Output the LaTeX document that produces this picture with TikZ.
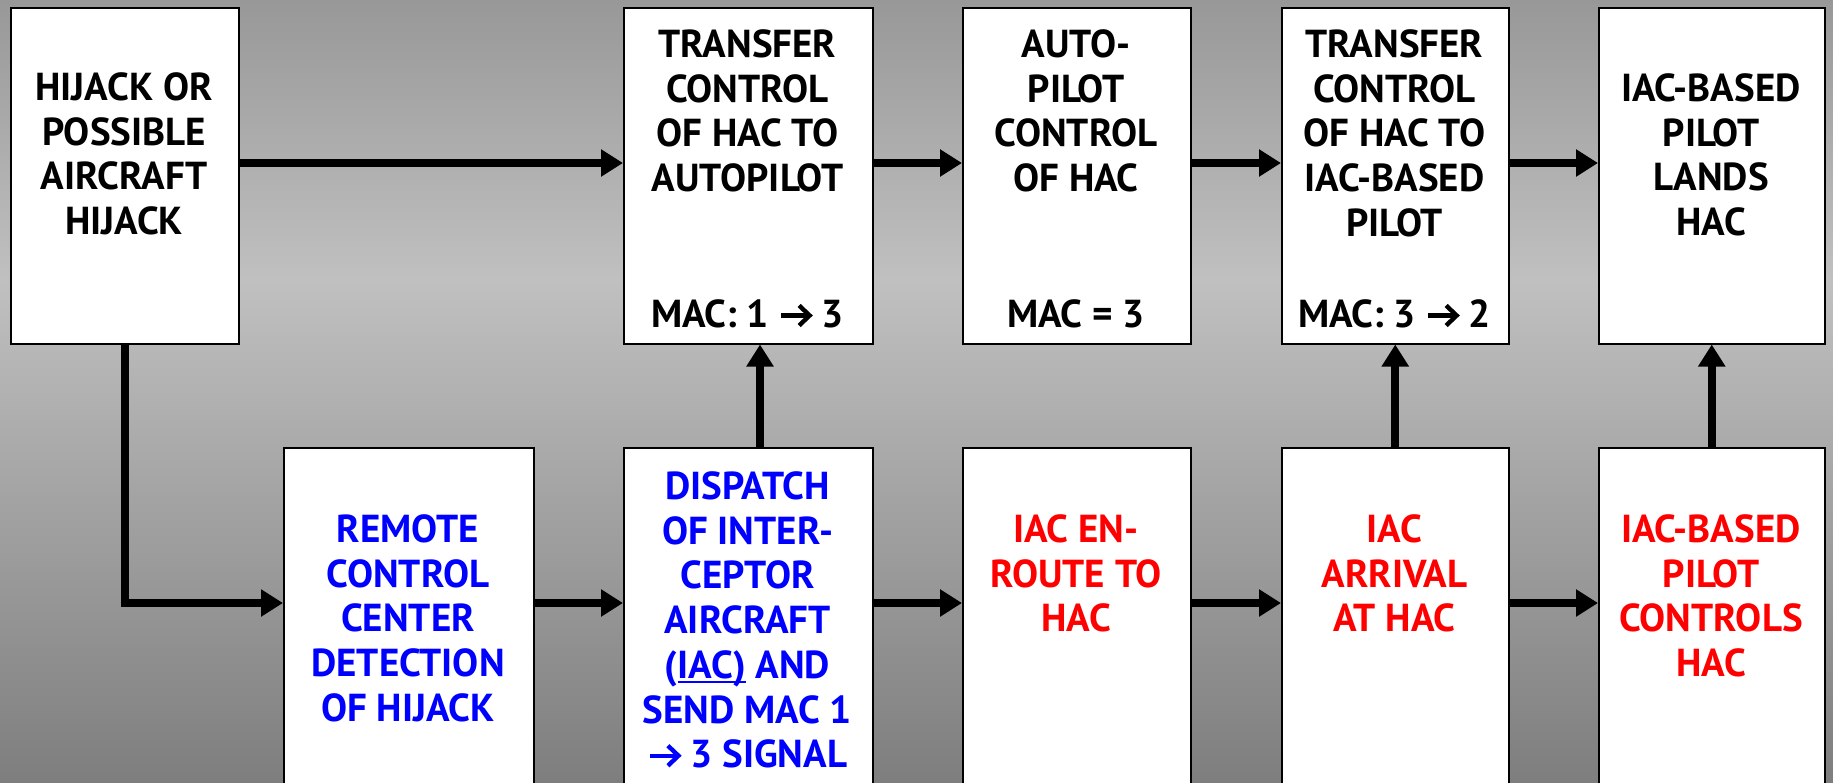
\documentclass[tikz,border=0pt]{standalone}
\usepackage{fontspec}
\setmainfont{PT Sans}
\usetikzlibrary{arrows.meta}
\definecolor{bgtop}{RGB}{152,152,152}
\definecolor{bgmid}{RGB}{192,192,192}
\definecolor{bgbot}{RGB}{126,126,126}
\definecolor{tblue}{RGB}{0,0,255}
\definecolor{tred}{RGB}{255,0,0}
\newcommand{\rarr}{\tikz[x=1pt,y=1pt,baseline=0pt,line width=4.4pt]{\path (0,0) rectangle (30,1); \draw (0,12) -- (28,12); \draw[line join=miter, miter limit=10] (18,2) -- (28.5,12) -- (18,22);}}
\newcommand{\myul}[1]{\setbox0\hbox{#1}\rlap{\rule[-5pt]{\wd0}{2.8pt}}\box0\relax}
\begin{document}
\begin{tikzpicture}[x=1pt,y=-1pt,
  box/.style={draw=black, line width=1.5pt, fill=white, inner sep=0pt, anchor=north west, minimum height=#1},
  txt/.style={anchor=north, inner sep=0pt, align=center, font=\fontsize{39}{44.7}\selectfont\bfseries},
  arr/.style={line width=8pt, line join=miter, -{Triangle[length=22pt,width=26pt]}}]
\useasboundingbox (0,0) rectangle (1833,782);
\shade[top color=bgtop, bottom color=bgmid] (0,0) rectangle (1833,280);
\shade[top color=bgmid, bottom color=bgbot] (0,280) rectangle (1833,782);
% top row boxes
\node[box=336pt, minimum width=228pt] (b1) at (10,7) {};
\node[box=336pt, minimum width=249pt] (b2) at (623,7) {};
\node[box=336pt, minimum width=228pt] (b3) at (962,7) {};
\node[box=336pt, minimum width=227pt] (b4) at (1281,7) {};
\node[box=336pt, minimum width=226pt] (b5) at (1598,7) {};
% bottom row boxes
\node[box=345pt, minimum width=250pt] (bA) at (283,447) {};
\node[box=345pt, minimum width=249pt] (bB) at (623,447) {};
\node[box=345pt, minimum width=228pt] (bC) at (962,447) {};
\node[box=345pt, minimum width=227pt] (bD) at (1281,447) {};
\node[box=345pt, minimum width=226pt] (bE) at (1598,447) {};
% connectors
\coordinate (ya) at (0,163);
\coordinate (yb) at (0,603);
\coordinate (xB) at (760,0);
\draw[arr] (b1.east |- ya) -- (b2.west |- ya);
\draw[arr] (b2.east |- ya) -- (b3.west |- ya);
\draw[arr] (b3.east |- ya) -- (b4.west |- ya);
\draw[arr] (b4.east |- ya) -- (b5.west |- ya);
\draw[arr] (b1.south) |- (bA.west |- yb);
\draw[arr] (bA.east |- yb) -- (bB.west |- yb);
\draw[arr] (bB.east |- yb) -- (bC.west |- yb);
\draw[arr] (bC.east |- yb) -- (bD.west |- yb);
\draw[arr] (bD.east |- yb) -- (bE.west |- yb);
\draw[arr] (bB.north -| xB) -- (b2.south -| xB);
\draw[arr] (bD.north) -- (b4.south);
\draw[arr] (bE.north) -- (b5.south);
% texts
\node[txt] (t1) at (124,70.3) {\rule{0pt}{30pt}HIJACK OR\\POSSIBLE\\AIRCRAFT\\HIJACK};
\node[txt] (t2) at (747.5,27.3) {\rule{0pt}{30pt}TRANSFER\\CONTROL\\OF HAC TO\\AUTOPILOT};
\node[txt] (m2) at (747.5,297.3) {\rule{0pt}{30pt}MAC: 1 \rarr{} 3};
\node[txt] (t3) at (1076,27.3) {\rule{0pt}{30pt}AUTO-\\PILOT\\CONTROL\\OF HAC};
\node[txt] (m3) at (1076,297.3) {\rule{0pt}{30pt}MAC = 3};
\node[txt] (t4) at (1394.5,27.3) {\rule{0pt}{30pt}TRANSFER\\CONTROL\\OF HAC TO\\IAC-BASED\\PILOT};
\node[txt] (m4) at (1394.5,297.3) {\rule{0pt}{30pt}MAC: 3 \rarr{} 2};
\node[txt] (t5) at (1711,71.3) {\rule{0pt}{30pt}IAC-BASED\\PILOT\\LANDS\\HAC};
\node[txt, text=tblue] (tA) at (408,512.3) {\rule{0pt}{30pt}REMOTE\\CONTROL\\CENTER\\DETECTION\\OF HIJACK};
\node[txt, text=tblue] (tB) at (747.5,469.3) {\rule{0pt}{30pt}DISPATCH\\OF INTER-\\CEPTOR\\AIRCRAFT\\(\myul{IAC)} AND\\SEND MAC 1\\\rarr{} 3 SIGNAL};
\node[txt, text=tred] (tC) at (1076,512.3) {\rule{0pt}{30pt}IAC EN-\\ROUTE TO\\HAC};
\node[txt, text=tred] (tD) at (1394.5,512.3) {\rule{0pt}{30pt}IAC\\ARRIVAL\\AT HAC};
\node[txt, text=tred] (tE) at (1711,512.3) {\rule{0pt}{30pt}IAC-BASED\\PILOT\\CONTROLS\\HAC};
\end{tikzpicture}
\end{document}
